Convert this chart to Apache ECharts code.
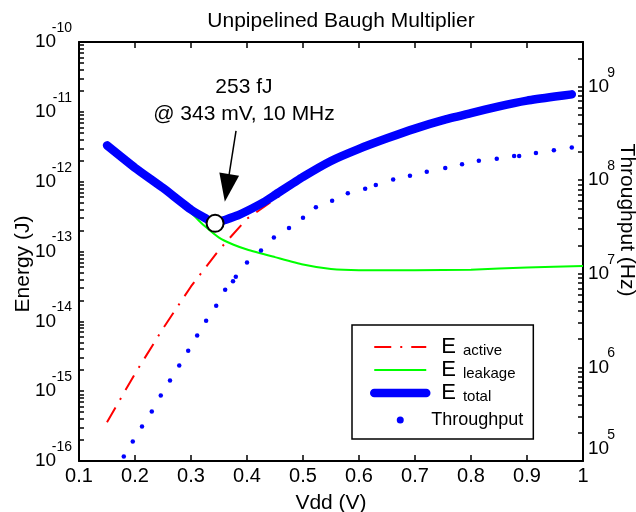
<!DOCTYPE html>
<html>
<head>
<meta charset="utf-8">
<script src="https://cdn.jsdelivr.net/npm/echarts@6/dist/echarts.min.js"></script>
<style>
  html, body { margin: 0; padding: 0; background: #fff; }
  #chart { width: 636px; height: 512px; }
</style>
</head>
<body>
<div id="chart"></div>
<script>
// supply voltage grid (V) and energies (J)
const vddTotal = [0.15, 0.2, 0.25, 0.3, 0.325, 0.343, 0.36, 0.384, 0.4, 0.43, 0.45, 0.5, 0.55, 0.6, 0.65, 0.7, 0.75, 0.8, 0.85, 0.9, 0.95, 0.98]
const eTotal = [3.31e-12, 1.58e-12, 8.13e-13, 3.98e-13, 3.02e-13, 2.53e-13, 2.82e-13, 3.31e-13, 3.8e-13, 5.1e-13, 6.46e-13, 1.17e-12, 1.98e-12, 2.95e-12, 4.17e-12, 5.75e-12, 7.59e-12, 9.55e-12, 1.2e-11, 1.45e-11, 1.66e-11, 1.78e-11]

const vddActive = [0.15, 0.2, 0.25, 0.3, 0.35, 0.4, 0.45, 0.5, 0.55, 0.6, 0.65, 0.7, 0.75, 0.8, 0.85, 0.9, 0.95, 0.98]
const eActive = [3.6e-16, 1.78e-15, 7.9e-15, 3.16e-14, 1.05e-13, 2.95e-13, 5.6e-13, 1.11e-12, 1.92e-12, 2.9e-12, 4.1e-12, 5.7e-12, 7.5e-12, 9.5e-12, 1.19e-11, 1.44e-11, 1.65e-11, 1.77e-11]

const vddLeak = [0.15, 0.2, 0.25, 0.3, 0.325, 0.35, 0.375, 0.4, 0.45, 0.5, 0.55, 0.6, 0.7, 0.8, 0.9, 1.0]
const eLeak = [3.24e-12, 1.51e-12, 7.6e-13, 3.55e-13, 2.29e-13, 1.58e-13, 1.26e-13, 1.07e-13, 8.3e-14, 6.5e-14, 5.6e-14, 5.4e-14, 5.4e-14, 5.5e-14, 5.9e-14, 6.2e-14]

// throughput dots (Hz), right axis
const vddRate = [0.18, 0.196, 0.2125, 0.23, 0.246, 0.2625, 0.279, 0.295, 0.311, 0.327, 0.345, 0.361, 0.375, 0.38, 0.4, 0.425, 0.448, 0.475, 0.5, 0.523, 0.552, 0.58, 0.611, 0.63, 0.661, 0.691, 0.721, 0.754, 0.784, 0.814, 0.846, 0.877, 0.886, 0.916, 0.948, 0.98]
const rate = [1.12e5, 1.62e5, 2.34e5, 3.39e5, 5.01e5, 7.24e5, 1.05e6, 1.51e6, 2.19e6, 3.16e6, 4.57e6, 6.76e6, 8.32e6, 9.33e6, 1.32e7, 1.78e7, 2.45e7, 3.09e7, 3.98e7, 5.13e7, 6.03e7, 7.24e7, 8.13e7, 8.91e7, 1.02e8, 1.12e8, 1.23e8, 1.35e8, 1.48e8, 1.62e8, 1.7e8, 1.82e8, 1.82e8, 1.95e8, 2.09e8, 2.24e8]

// annotated optimum and the arrow / text anchors (data coords)
const minPoint = [0.343, 2.53e-13]
const noteAt = [0.3946, 1.42e-11]
const arrowFrom = [0.3804, 5.32e-12]
const arrowTo = [0.3643, 8.13e-13]

const energyDecades = [-16, -15, -14, -13, -12, -11, -10]
const rateDecades = [5, 6, 7, 8, 9]
const rateMax = 3e9

const font = "'Liberation Sans', Arial, sans-serif"

function logTicks(decades, maxVal) {
  const out = []
  decades.forEach(e => {
    for (let m = 1; m <= 9; m++) {
      const v = m * Math.pow(10, e)
      if (v <= maxVal * 1.0001) out.push(v)
    }
  })
  return out
}

const pairs = (xs, ys) => xs.map((x, i) => [x, ys[i]])

const chart = echarts.init(document.getElementById('chart'), null, { renderer: 'canvas' })

const tickStyle = { show: true, inside: true, length: 6, lineStyle: { color: '#000', width: 1.5 } }
const lineStyleAxis = { show: true, onZero: false, lineStyle: { color: '#000', width: 2 } }

// "10" with a raised exponent: three rich lines, exponent / base / spacer
const expRich = (baseWidth) => ({
  s: { fontFamily: font, fontSize: 14, lineHeight: 12, align: 'right', color: '#000' },
  b: { fontFamily: font, fontSize: 19, lineHeight: 16, width: baseWidth, align: 'left', color: '#000' },
  sp: { fontSize: 8, lineHeight: 12 },
  sp2: { fontSize: 8, lineHeight: 36 }
})

chart.setOption({
  animation: false,
  backgroundColor: '#fff',
  textStyle: { fontFamily: font, color: '#000' },
  title: {
    text: 'Unpipelined Baugh Multiplier',
    left: 336, top: 6, textAlign: 'center',
    textStyle: { fontFamily: font, fontSize: 21, fontWeight: 'normal', color: '#000' }
  },
  grid: { left: 79, right: 53, top: 42, bottom: 51, outerBoundsMode: 'none', containLabel: false },
  legend: {
    data: [
      { name: 'E active', itemStyle: { opacity: 0 } },
      { name: 'E leakage', itemStyle: { opacity: 0 } },
      { name: 'E total', itemStyle: { opacity: 0 }, lineStyle: { width: 8.5, cap: 'round' } },
      { name: 'Throughput' }
    ],
    orient: 'vertical',
    left: 352, top: 325,
    padding: [10, 10, 3, 18],
    itemWidth: 52, itemHeight: 7, itemGap: 0,
    borderColor: '#000', borderWidth: 1.5,
    formatter: name => name === 'Throughput' ? '{t|Throughput}' : '{e|E}{sub|' + name.slice(2) + '}',
    textStyle: {
      fontFamily: font, color: '#000',
      rich: {
        e: { fontFamily: font, fontSize: 22, lineHeight: 22, verticalAlign: 'top', padding: [0, 0, 0, 10], color: '#000' },
        sub: { fontFamily: font, fontSize: 15, lineHeight: 15, verticalAlign: 'bottom', padding: [8, 0, 0, 7], color: '#000' },
        t: { fontFamily: font, fontSize: 18, lineHeight: 32, height: 32, color: '#000' }
      }
    }
  },
  xAxis: [{
    type: 'value', min: 0.1, max: 1, interval: 0.1,
    name: 'Vdd (V)', nameLocation: 'middle', nameGap: 32,
    nameTextStyle: { fontFamily: font, fontSize: 21, color: '#000' },
    axisLine: lineStyleAxis, axisTick: tickStyle,
    axisLabel: { fontFamily: font, fontSize: 20, color: '#000', margin: 5, formatter: v => String(+v.toFixed(1)) },
    splitLine: { show: false }
  }, {
    type: 'value', position: 'top', min: 0.1, max: 1, interval: 0.1,
    axisLine: lineStyleAxis, axisTick: tickStyle,
    axisLabel: { show: false }, splitLine: { show: false }
  }],
  yAxis: [{
    type: 'log', logBase: 10, min: 1e-16, max: 1e-10,
    axisLine: lineStyleAxis,
    axisTick: Object.assign({}, tickStyle, { length: 5, customValues: logTicks(energyDecades, 1e-10) }),
    axisLabel: {
      customValues: energyDecades.map(e => Math.pow(10, e)),
      margin: 7,
      formatter: v => '{s|' + Math.round(Math.log10(v)) + '}\n{b|10}\n{sp| }',
      rich: expRich(37)
    },
    splitLine: { show: false }
  }, {
    type: 'log', logBase: 10, min: 1e5, max: rateMax, position: 'right',
    axisLine: lineStyleAxis,
    axisTick: Object.assign({}, tickStyle, { length: 5, customValues: logTicks(rateDecades, rateMax) }),
    axisLabel: {
      customValues: rateDecades.map(e => Math.pow(10, e)),
      margin: 5,
      formatter: v => {
        const e = Math.round(Math.log10(v))
        return '{s|' + e + '}\n{b|10}\n{' + (e === 5 ? 'sp2' : 'sp') + '| }'
      },
      rich: expRich(27)
    },
    splitLine: { show: false }
  }],
  graphic: [{
    type: 'text', x: 23, y: 264, rotation: Math.PI / 2,
    style: { text: 'Energy (J)', fontFamily: font, fontSize: 21, fill: '#000', align: 'center', verticalAlign: 'middle' }
  }, {
    type: 'text', x: 627, y: 220, rotation: -Math.PI / 2,
    style: { text: 'Throughput (Hz)', fontFamily: font, fontSize: 21, fill: '#000', align: 'center', verticalAlign: 'middle' }
  }],
  series: [{
    name: 'E active', type: 'line', data: pairs(vddActive, eActive),
    symbol: 'none', z: 2,
    lineStyle: { color: '#ff0000', width: 2, type: [17, 9, 2, 9] },
    itemStyle: { color: '#ff0000' }
  }, {
    name: 'E leakage', type: 'line', data: pairs(vddLeak, eLeak),
    symbol: 'none', z: 3, smooth: 0.2,
    lineStyle: { color: '#00ff00', width: 2 },
    itemStyle: { color: '#00ff00' }
  }, {
    name: 'E total', type: 'line', data: pairs(vddTotal, eTotal),
    symbol: 'none', z: 4, smooth: 0.15,
    lineStyle: { color: '#0000ff', width: 8.5, cap: 'round', join: 'round' },
    itemStyle: { color: '#0000ff' }
  }, {
    name: 'Throughput', type: 'scatter', yAxisIndex: 1, data: pairs(vddRate, rate),
    symbolSize: 4.5, z: 5,
    itemStyle: { color: '#0000ff', opacity: 1 }
  }, {
    name: 'optimum', type: 'scatter', data: [minPoint],
    symbolSize: 17, z: 10,
    itemStyle: { color: '#ffffff', borderColor: '#000', borderWidth: 2, opacity: 1 },
    markLine: {
      silent: true, animation: false,
      label: { show: false },
      lineStyle: { color: '#000', width: 1.5, type: 'solid' },
      data: [[
        { coord: arrowFrom, symbol: 'none' },
        { coord: arrowTo, symbol: 'triangle', symbolSize: [20, 28] }
      ]]
    },
    markPoint: {
      silent: true,
      data: [{
        coord: noteAt, symbol: 'circle', symbolSize: 1,
        itemStyle: { color: 'rgba(0,0,0,0)' },
        label: {
          show: true, position: 'inside',
          formatter: '253 fJ\n@ 343 mV, 10 MHz',
          fontFamily: font, fontSize: 21, lineHeight: 27, color: '#000'
        }
      }]
    }
  }]
})
</script>
</body>
</html>
